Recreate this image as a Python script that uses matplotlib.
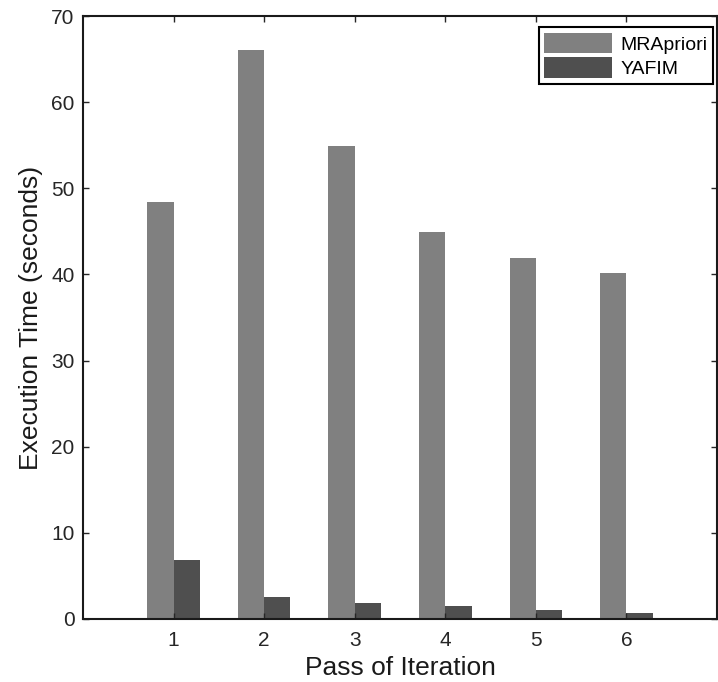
import numpy as np
import matplotlib.pyplot as plt

plt.rcParams['font.family'] = ['Liberation Sans', 'DejaVu Sans']

# data
passes = [1, 2, 3, 4, 5, 6]
mrapriori = [48.4, 66.0, 54.9, 44.9, 41.9, 40.2]
yafim = [6.9, 2.5, 1.8, 1.5, 1.1, 0.7]

x = np.array(passes)
w = 0.29

fig = plt.figure(figsize=(7.18, 6.82), dpi=100)
ax = fig.add_axes([83 / 718, 1 - 619 / 682, 634 / 718, 603 / 682])

ax.bar(x - w / 2, mrapriori, w, color="#808080", label="MRApriori")
ax.bar(x + w / 2, yafim, w, color="#4f4f4f", label="YAFIM")

ax.set_xlim(0, 7)
ax.set_ylim(0, 70)
ax.set_xticks(passes)
ax.set_yticks(range(0, 71, 10))
ax.tick_params(direction="in", top=True, right=True, length=4, width=1,
               labelsize=15, pad=6, colors="#262626", labelcolor="#262626")
ax.tick_params(axis="x", pad=9)
for s in ax.spines.values():
    s.set_linewidth(1.5)
    s.set_color("#1a1a1a")

ax.set_xlabel("Pass of Iteration", fontsize=19, color="#1a1a1a", labelpad=4)
ax.set_ylabel("Execution Time (seconds)", fontsize=19, color="#1a1a1a", labelpad=6)

leg = ax.legend(loc="upper right", bbox_to_anchor=(0.994, 0.982), fontsize=14,
                handlelength=3.5, handleheight=1.25, handletextpad=0.4,
                labelspacing=0.2, borderpad=0.3, borderaxespad=0,
                fancybox=False, framealpha=1, edgecolor="black")
leg.get_frame().set_linewidth(1.5)

fig.savefig("out.png", dpi=100)
